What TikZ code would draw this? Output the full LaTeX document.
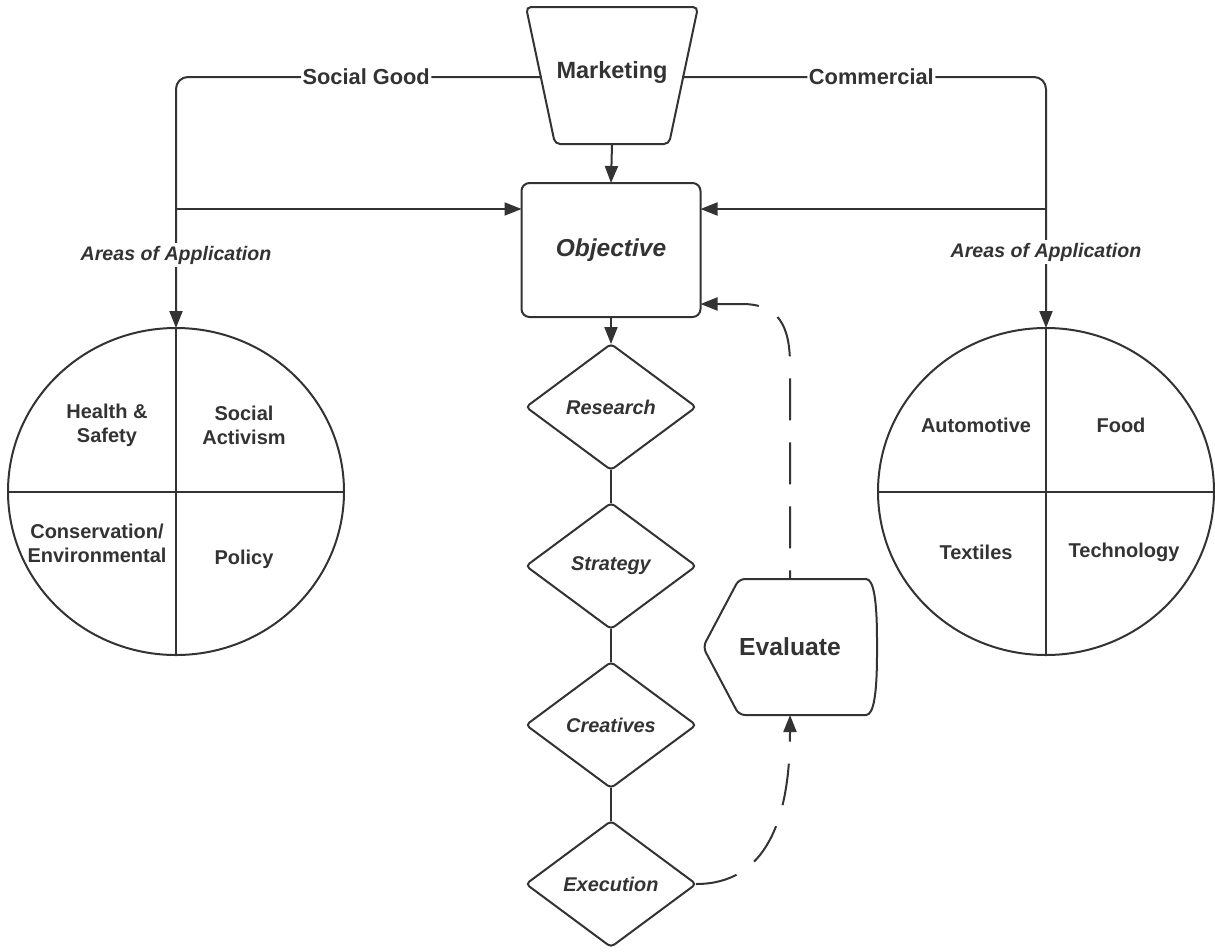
\documentclass[tikz,border=0pt]{standalone}
\usepackage{fontspec}
\setmainfont{Liberation Sans}
\usetikzlibrary{arrows.meta,shapes.geometric,calc}
\definecolor{ink}{HTML}{333333}

\begin{document}
\begin{tikzpicture}[x=1pt,y=-1pt,line width=2pt,color=ink,
  arr/.style={-{Triangle[length=17pt,width=13pt]}},
  backarr/.style={{Triangle[length=17pt,width=13pt]}-},
  longdash/.style={dash pattern=on 42pt off 22pt},
  txt/.style={inner sep=0pt,align=center,font=\fontsize{20}{24}\selectfont\bfseries},
  lbl/.style={fill=white,inner sep=1.5pt,font=\fontsize{21.8}{25}\selectfont\bfseries},
  area/.style={fill=white,inner sep=3pt,font=\fontsize{19.6}{23}\selectfont\bfseries\itshape},
  dmd/.style={draw,diamond,minimum width=170,minimum height=126,inner sep=0pt,outer sep=0pt,
    rounded corners=4pt,font=\fontsize{19.9}{23}\selectfont\bfseries\itshape},
  quad/.style={draw,ellipse,minimum width=336,minimum height=327,inner sep=0pt,outer sep=0pt}]

\useasboundingbox (0,0) rectangle (1215,951);

% Marketing trapezoid (wide side on top), text sits a little above the middle
\node[inner sep=0pt,minimum width=170,minimum height=128,
  font=\fontsize{23.5}{27}\selectfont\bfseries] (mkt) at (612,72) {Marketing};
\draw[rounded corners=5pt] (mkt.north west) -- (mkt.north east)
  -- ($(mkt.south east)+(-29,7)$) -- ($(mkt.south west)+(29,7)$) -- cycle;

% Objective box
\node[draw,rounded corners=8pt,minimum width=179,minimum height=134,inner sep=0pt,outer sep=0pt,
  font=\fontsize{24.5}{28}\selectfont\bfseries\itshape] (obj) at (611,250) {Objective};

% Process steps
\node[dmd] (res) at (611,407) {Research};
\node[dmd] (str) at (611,566) {Strategy};
\node[dmd] (cre) at (611,725) {Creatives};
\node[dmd] (exe) at (611,884) {Execution};

% Evaluate display shape
\node[inner sep=0pt,minimum width=172,minimum height=134,
  font=\fontsize{24.7}{28}\selectfont\bfseries] (eval) at (790,647) {Evaluate};
\draw[rounded corners=6pt] (eval.west) -- ($(eval.north west)+(36,0)$) -- ($(eval.north east)+(-17,0)$)
  .. controls ($(eval.north east)+(-3,0)$) and ($(eval.east)+(0,-45)$) .. (eval.east)
  .. controls ($(eval.east)+(0,45)$) and ($(eval.south east)+(-3,0)$) .. ($(eval.south east)+(-17,0)$)
  -- ($(eval.south west)+(36,0)$) -- cycle;

% Areas of application
\node[quad] (lc) at (176,491.5) {};
\draw (lc.north) -- (lc.south);
\draw (lc.west) -- (lc.east);
\node[txt] (hs) at (107,425.5) {Health \&\\Safety};
\node[txt] (sa) at (244,425.5) {Social\\Activism};
\node[txt] (ce) at (97,543.5) {Conservation/\\Environmental};
\node[txt] (po) at (244,559) {Policy};

\node[quad] (rc) at (1046,491.5) {};
\draw (rc.north) -- (rc.south);
\draw (rc.west) -- (rc.east);
\node[txt] (au) at (976,425) {Automotive};
\node[txt] (fo) at (1121,425) {Food};
\node[txt] (te) at (976,552) {Textiles};
\node[txt] (tc) at (1124,552) {Technology};

% Branches out of Marketing
\coordinate (sgs) at (541.8,77);
\coordinate (cms) at (682.2,77);
\draw[arr,rounded corners=12pt] (sgs) -| (lc.north) node[lbl,pos=0.24] (sg) {Social Good};
\draw[arr,rounded corners=12pt] (cms) -| (rc.north) node[lbl,pos=0.26] (cm) {Commercial};

\coordinate (lj) at (176,209);
\coordinate (rj) at (1046,209);
\draw[arr] (lj) -- (lj -| obj.west);
\draw[arr] (rj) -- (rj -| obj.east);
\node[area] (la) at (176,255) {Areas of Application};
\node[area] (ra) at (1046,252) {Areas of Application};

% Main flow
\draw[arr] (mkt.south) ++(0,7) -- (obj.north);
\draw[arr] (obj.south) -- (res.north);
\draw (res.south) -- (str.north);
\draw (str.south) -- (cre.north);
\draw (cre.south) -- (exe.north);

% Feedback loop
\draw[arr,longdash] (exe.east) .. controls ($(exe.east)+(70,0)$) and ($(eval.south)+(0,105)$) .. (eval.south);
\draw[backarr,longdash] ($(obj.south east)+(0,-13)$) -- (742,304)
  .. controls (778,304) and (790,325) .. (790,365) -- (eval.north);
\end{tikzpicture}
\end{document}
